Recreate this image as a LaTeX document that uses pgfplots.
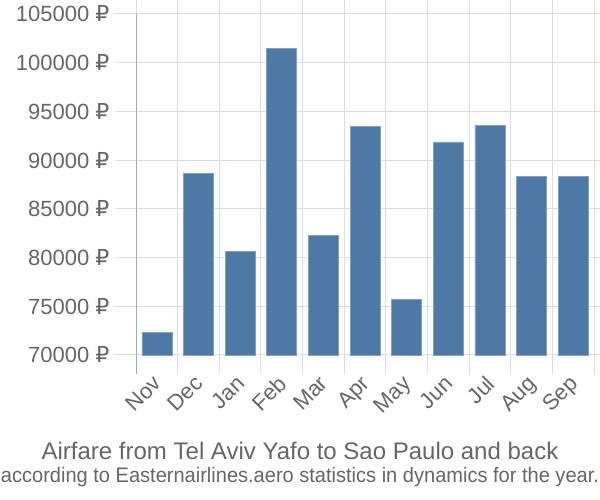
\documentclass[border=0pt]{standalone}
\usepackage{pgfplots}
\pgfplotsset{compat=1.18}
\usepackage{fontspec}
\setmainfont{Liberation Sans}
\newfontfamily\rub{DejaVu Sans}
\definecolor{barblue}{RGB}{78,121,167}
\definecolor{txtgray}{RGB}{102,102,102}
\definecolor{gridgray}{RGB}{221,221,221}
\definecolor{axgray}{RGB}{170,170,170}
\begin{document}
\begin{tikzpicture}
\useasboundingbox (0,0) rectangle (600bp,500bp);
\begin{axis}[
  at={(136bp,145bp)}, anchor=south west,
  scale only axis, width=458bp, height=341bp,
  xmin=-0.5, xmax=10.5, ymin=70000, ymax=105000,
  axis line style={draw=none},
  xtick={0,...,10},
  xticklabels={Nov,Dec,Jan,Feb,Mar,Apr,May,Jun,Jul,Aug,Sep},
  minor xtick={-0.5,0.5,...,10.5},
  ytick={70000,75000,...,105000},
  scaled y ticks=false,
  major x tick style={draw=none},
  tick align=outside,
  major tick length=21bp,
  minor tick length=19bp,
  every tick/.style={gridgray, line width=1bp},
  ymajorgrids, xminorgrids,
  grid style={gridgray, line width=1bp},
  minor grid style={gridgray, line width=1bp},
  tick label style={font=\fontsize{22bp}{26bp}\selectfont, text=txtgray},
  yticklabel={\pgfmathprintnumber[fixed,precision=0,1000 sep={},assume math mode=true]{\tick}~{\rub ₽}},
  yticklabel style={anchor=east, xshift=-2bp},
  xticklabel style={anchor=north east, inner sep=0pt, xshift=-5bp, yshift=2bp, rotate=45},
  ybar, bar width=30bp,
  clip=false,
]
\addplot[fill=barblue, draw=barblue!70!white, line width=0.6bp] coordinates {
(0,72360) (1,88650) (2,80640) (3,101475) (4,82316) (5,93435) (6,75713) (7,91862) (8,93537) (9,88372) (10,88372)};
\draw[axgray, line width=1bp] (axis cs:-0.5,105000) -- ([yshift=-19bp]axis cs:-0.5,70000);
\end{axis}
\node[anchor=base, text=txtgray, font=\fontsize{24bp}{28bp}\selectfont] at (300bp,40bp) {Airfare from Tel Aviv Yafo to Sao Paulo and back};
\node[anchor=base, text=txtgray, font=\fontsize{21bp}{25bp}\selectfont, inner sep=0pt] at (300bp,17bp) {\resizebox{598bp}{\height}{according to Easternairlines.aero statistics in dynamics for the year.}};
\end{tikzpicture}
\end{document}
